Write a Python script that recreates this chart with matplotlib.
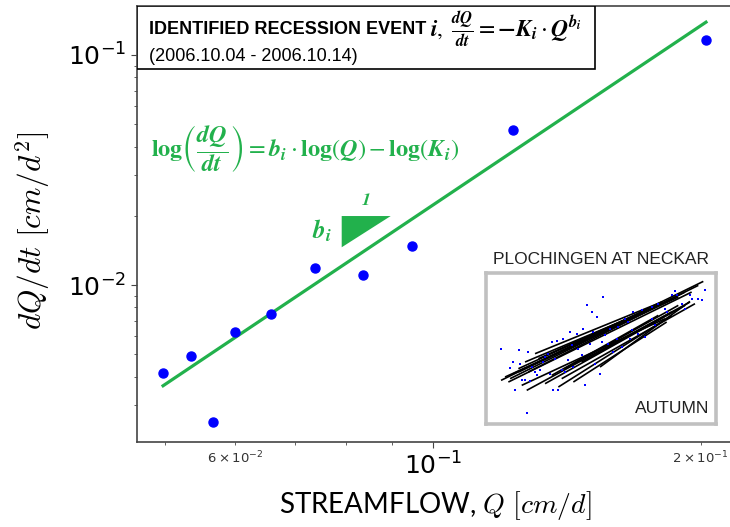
import numpy as np
import matplotlib
matplotlib.use("Agg")
import matplotlib.pyplot as plt
from matplotlib.patches import Polygon, Rectangle
from matplotlib.ticker import LogLocator, LogFormatterSciNotation, NullFormatter

# recession event points (streamflow vs. dQ/dt)
Q = [0.04977, 0.05346, 0.05660, 0.06001, 0.06586, 0.07378, 0.08350, 0.09488, 0.1231, 0.2028]
dQdt = [0.004131, 0.004912, 0.002544, 0.006226, 0.007503, 0.01186, 0.01109, 0.01482, 0.04721, 0.1166]

# fitted power law dQ/dt = K * Q^b
b_fit = 2.591
K_fit = 8.672

# inset: recession lines of the autumn season (picture units of the inset)
seg_x0 = [48, 75, 85, 100, 125, 150, 180, 220, 265, 345, 120, 200, 100, 160, 240, 60,
          70, 130, 230, 290, 110]
seg_y0 = [325, 320, 305, 300, 355, 245, 335, 345, 330, 285, 270, 310, 290, 260, 290, 315,
          330, 300, 320, 270, 340]
seg_x1 = [655, 640, 560, 580, 615, 530, 600, 560, 545, 615, 500, 520, 450, 470, 580, 400,
          620, 600, 630, 560, 540]
seg_y1 = [28, 40, 80, 75, 90, 90, 100, 130, 150, 88, 110, 130, 130, 120, 100, 160,
          60, 60, 95, 120, 140]

pts_x = [48, 103, 130, 85, 75, 105, 90, 125, 110, 120, 135, 150, 165, 140, 175, 180, 190,
         200, 215, 235, 255, 260, 275, 295, 300, 305, 320, 335, 355, 345, 360, 375, 385,
         400, 410, 420, 435, 445, 460, 470, 480, 500, 510, 520, 540, 560, 570, 575, 590,
         615, 640, 660, 650, 220, 205, 230, 240, 265, 290, 330, 350, 395, 440, 155, 195,
         210, 250, 280, 315, 325, 370, 430, 500, 545, 600, 620]
pts_y = [230, 235, 240, 270, 288, 275, 355, 423, 325, 325, 328, 300, 295, 285, 270, 255, 245,
         210, 207, 200, 180, 220, 185, 172, 340, 98, 120, 135, 75, 305, 190, 170, 240,
         165, 225, 140, 200, 120, 185, 115, 195, 105, 160, 95, 110, 70, 58, 70, 95,
         68, 82, 55, 83, 355, 355, 295, 300, 285, 250, 275, 210, 200, 175, 310, 305,
         260, 265, 230, 215, 180, 215, 150, 140, 120, 110, 80]

green = "#22b14c"

fig = plt.figure(figsize=(7.3, 5.27), dpi=100)
ax = fig.add_axes([0.1873, 0.1613, 0.8127, 0.8273])

ax.set_xscale("log")
ax.set_yscale("log")

q_line = np.array([Q[0], Q[-1]])
ax.plot(q_line, K_fit * q_line ** b_fit, color=green, lw=2.3, zorder=2)
ax.plot(Q, dQdt, "o", color="#0000ff", ms=6.5, zorder=3)

ax.set_xlim(0.04649, 0.2158)
ax.set_ylim(0.002077, 0.1633)

ax.spines["right"].set_visible(False)
for s in ["left", "bottom", "top"]:
    ax.spines[s].set_color("#444444")
    ax.spines[s].set_linewidth(1.2)

ax.xaxis.set_major_locator(LogLocator(base=10))
ax.xaxis.set_minor_locator(LogLocator(base=10, subs=np.arange(2, 10)))
ax.xaxis.set_minor_formatter(LogFormatterSciNotation(labelOnlyBase=False, minor_thresholds=(2, 0.4)))
ax.yaxis.set_minor_formatter(NullFormatter())
ax.tick_params(axis="both", which="major", labelsize=18, length=4, color="#444444")
ax.tick_params(axis="both", which="minor", length=2.5, color="#444444")
ax.tick_params(axis="x", which="minor", labelsize=9.5, labelcolor="#333333")

ax.set_ylabel(r"$dQ/dt\ [cm/d^2]$", fontsize=22.5, math_fontfamily="cm", va="center")
ax.yaxis.set_label_coords(-0.175, 0.485)
ax.set_xlabel(r"STREAMFLOW, $Q\ [cm/d]$", fontsize=20, family="Lato",
              math_fontfamily="cm", va="center")
ax.xaxis.set_label_coords(0.503, -0.146)

# title box in the upper left corner
ax.add_patch(Rectangle((0, 0.8555), 0.7725, 0.1445, transform=ax.transAxes,
                       facecolor="white", edgecolor="black", lw=1.2, zorder=5))
ax.text(0.021, 0.945, "IDENTIFIED RECESSION EVENT", transform=ax.transAxes,
        fontsize=13, fontweight="bold", family="Liberation Sans", va="center", zorder=6)
ax.text(0.495, 0.947,
        r"$\mathbfit{i},\ \frac{\mathbfit{dQ}}{\mathbfit{dt}} = \mathbf{-}\mathbfit{K_i}"
        r" \cdot \mathbfit{Q}^{\mathbfit{b_i}}$",
        transform=ax.transAxes, fontsize=17, math_fontfamily="stix", va="center", zorder=6)
ax.text(0.021, 0.885, "(2006.10.04 - 2006.10.14)", transform=ax.transAxes,
        fontsize=13, family="Liberation Sans", va="center", zorder=6)

# green equation of the log form
ax.text(0.024, 0.674,
        r"$\mathbf{log}\left(\dfrac{\mathbfit{dQ}}{\mathbfit{dt}}\right) = \mathbfit{b_i} \cdot "
        r"\mathbf{log}(\mathbfit{Q}) - \mathbf{log}(\mathbfit{K_i})$",
        transform=ax.transAxes, fontsize=17.5, color=green, math_fontfamily="stix", va="center")

# slope triangle
ax.add_patch(Polygon([(0.3455, 0.5183), (0.4281, 0.5183), (0.3455, 0.4466)], closed=True,
                     transform=ax.transAxes, facecolor=green, edgecolor="none", zorder=4))
ax.text(0.386, 0.556, r"$\mathbfit{1}$", transform=ax.transAxes, fontsize=13,
        color=green, math_fontfamily="stix", ha="center", va="center")
ax.text(0.312, 0.484, r"$\mathbfit{b_i}$", transform=ax.transAxes, fontsize=18,
        color=green, math_fontfamily="stix", ha="center", va="center")

# inset with all autumn recessions
axi = fig.add_axes([0.6658, 0.1954, 0.315, 0.2865])
for x0, y0, x1, y1 in zip(seg_x0, seg_y0, seg_x1, seg_y1):
    axi.plot([x0, x1], [y0, y1], color="black", lw=1.2, solid_capstyle="butt", zorder=2)
axi.plot(pts_x, pts_y, "s", color="#0000ff", ms=2.0, mew=0, zorder=3)
axi.set_xlim(3, 693)
axi.set_ylim(456, 3)
axi.set_xticks([])
axi.set_yticks([])
for s in axi.spines.values():
    s.set_color("#c0c0c0")
    s.set_linewidth(2.6)
axi.text(0.97, 0.1, "AUTUMN", transform=axi.transAxes, ha="right", va="center",
         fontsize=12.5, family="Liberation Sans", color="#222222")
fig.text(601 / 730, 1 - 259 / 527, "PLOCHINGEN AT NECKAR", ha="center", va="center",
         fontsize=12.5, family="Liberation Sans", color="#222222")

fig.savefig("out.png", dpi=100)
